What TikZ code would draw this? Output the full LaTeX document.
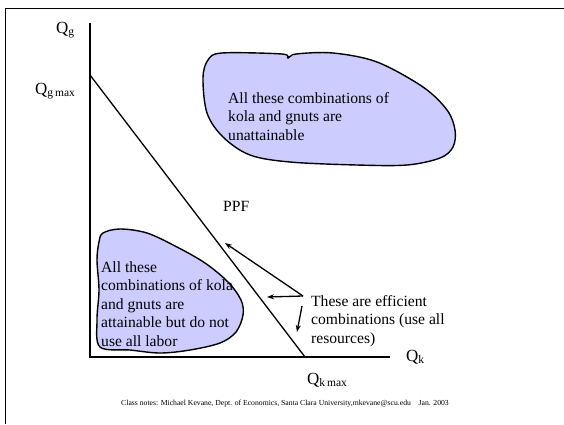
\documentclass[tikz,border=0pt]{standalone}
\usepackage{fontspec}
\setmainfont{Liberation Serif}
\usetikzlibrary{arrows.meta}
\definecolor{blobfill}{HTML}{CCCCFF}
\tikzset{
  blob/.style={draw=black, line width=1.4pt, fill=blobfill},
  axisline/.style={line width=1.8pt},
  ppfline/.style={line width=1.3pt},
  note/.style={font=\fontsize{15.6}{18.5}\selectfont, align=left, inner sep=0pt},
  qlab/.style={font=\fontsize{17}{17}\selectfont, inner sep=0pt},
  arr/.style={line width=1.3pt, -{Stealth[length=7pt,width=5pt]}},
}
\newcommand{\qsub}[1]{Q{\fontsize{11.5}{11.5}\selectfont\raisebox{-2.5pt}{#1}}}
\begin{document}
\begin{tikzpicture}[x=1pt,y=-1pt]
\useasboundingbox (0,0) rectangle (564,424);
% frame
\draw[line width=1.8pt] (5.5,424) -- (5.5,8.5) -- (564,8.5);
% blobs
\draw[blob] plot[smooth cycle, tension=0.55] coordinates {
 (222,53) (282,54) (288,58) (296,54) (333,53) (377,62) (423,87) (447,110) (455,130)
 (453,147) (440,158) (407,165) (357,165) (290,162) (250,155) (223,137) (207,113)
 (203,78) (208,60)};
\draw[blob] plot[smooth cycle, tension=0.55] coordinates {
 (103,233) (120,229) (147,233) (177,247) (205,263) (228,282) (241,300) (243,315)
 (236,332) (220,343) (190,350) (160,353) (130,350) (100,347) (97,320) (99,290)
 (97,260) (99,242)};
% axes
\coordinate (ytop) at (90,23);
\coordinate (orig) at (90,357);
\coordinate (xend) at (390,357);
\coordinate (gmax) at (90,75);
\coordinate (kmax) at (305,357);
\draw[axisline] (ytop) -- (orig) -- (xend);
\draw[ppfline] (gmax) -- (kmax);
% labels
\node[qlab, anchor=base west] (qg) at (56,33) {\qsub{g}};
\node[qlab, anchor=base west] (qgmax) at (35,94) {\qsub{g\,max}};
\node[qlab, anchor=base west] (qk) at (406,361) {\qsub{k}};
\node[qlab, anchor=base west] (qkmax) at (307,384) {\qsub{k\,max}};
\node[note, anchor=base west] (ppf) at (223,211) {PPF};
% multi-line nodes: base anchor is the last line's baseline
\node[note, anchor=base west] (unatt) at (228,140) {All these combinations of\\kola and gnuts are\\unattainable};
\node[note, anchor=base west] (att) at (101,346) {All these\\combinations of kola\\and gnuts are\\attainable but do not\\use all labor};
\node[note, anchor=base west] (eff) at (311,343) {These are efficient\\combinations (use all\\resources)};
% arrows
\coordinate (t1) at (303,296);
\coordinate (h1) at (225,243);
\coordinate (h2) at (267,297);
\coordinate (t3) at (302,306);
\coordinate (h3) at (297,332);
\draw[arr] (t1) -- (h1);
\draw[arr] (t1) -- (h2);
\draw[arr] (t3) -- (h3);
% footer
\node[inner sep=0pt, font=\fontsize{7.7}{8}\selectfont] (foot) at (285,404) {Class notes: Michael Kevane, Dept. of Economics, Santa Clara University,mkevane@scu.edu\quad Jan. 2003};
\end{tikzpicture}
\end{document}
